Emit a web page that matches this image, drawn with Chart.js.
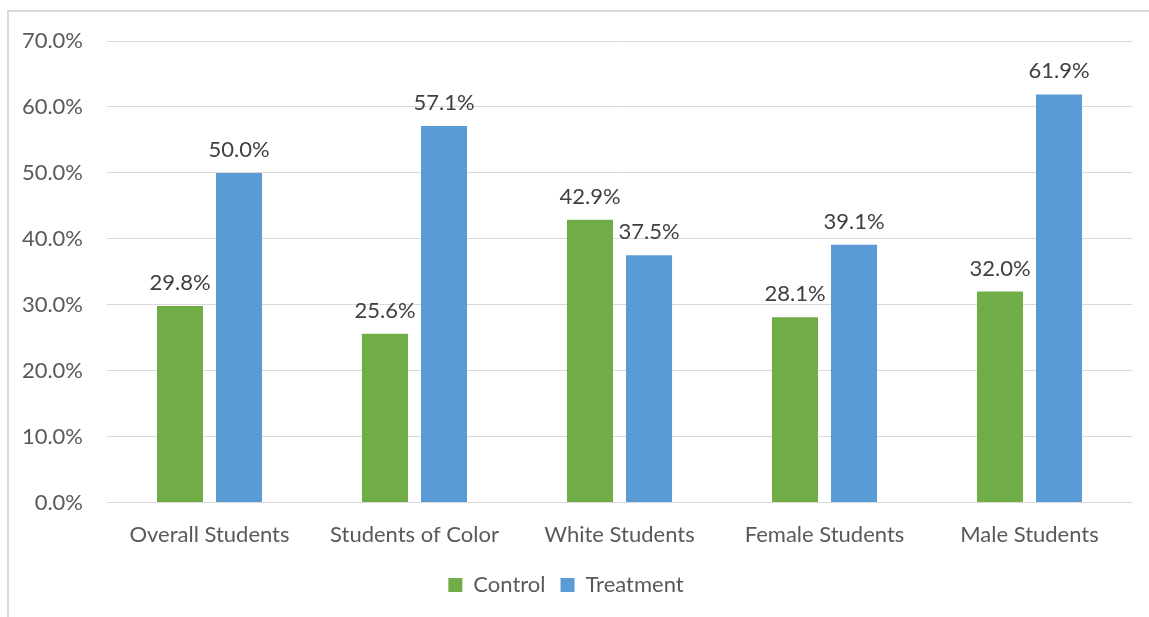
<!DOCTYPE html>
<html>
<head>
<meta charset="utf-8">
<script src="https://cdn.jsdelivr.net/npm/chart.js@4"></script>
<style>
    html, body { margin: 0; padding: 0; background: #fff; }
    #frame { position: absolute; left: 7px; top: 10px; width: 1160px; height: 640px; border-left: 2px solid #d9d9d9; border-top: 2px solid #d9d9d9; }
    #wrap { position: absolute; left: 0; top: 0; width: 1149px; height: 617px; }
</style>
</head>
<body>
<div id="frame"></div>
<div id="wrap"><canvas id="myChart"></canvas></div>
<script>
// categories en waarden (in procent)
let categories = ['Overall Students', 'Students of Color', 'White Students', 'Female Students', 'Male Students'];
let controlValues = [29.8, 25.6, 42.9, 28.1, 32.0];
let treatmentValues = [50.0, 57.1, 37.5, 39.1, 61.9];
let yTicks = [0, 10, 20, 30, 40, 50, 60, 70];

let fontFamily = 'Lato, "Open Sans", sans-serif';
let fontSize = 22;

// labels boven de bars
let valueLabels = {
    id: 'valueLabels',
    afterDatasetsDraw: function (chart) {
        let ctx = chart.ctx;
        ctx.save();
        ctx.font = fontSize + 'px ' + fontFamily;
        ctx.fillStyle = '#404040';
        ctx.textAlign = 'center';
        ctx.textBaseline = 'alphabetic';
        chart.data.datasets.forEach((ds, i) => {
            chart.getDatasetMeta(i).data.forEach((bar, j) => {
                ctx.fillText(ds.data[j].toFixed(1) + '%', bar.x, bar.y - 16);
            });
        });
        ctx.restore();
    }
};

let ctx = document.getElementById('myChart');

new Chart(ctx, {
    type: 'bar',
    data: {
        labels: categories,
        datasets: [{
            label: 'Control',
            data: controlValues,
            backgroundColor: '#70ad47',
            categoryPercentage: 0.576,
            barPercentage: 0.78
        }, {
            label: 'Treatment',
            data: treatmentValues,
            backgroundColor: '#5b9bd5',
            categoryPercentage: 0.576,
            barPercentage: 0.78
        }]
    },
    options: {
        responsive: true,
        maintainAspectRatio: false,
        animation: false,
        layout: { padding: { left: 0, right: 17, top: 41, bottom: 11 } },
        plugins: {
            tooltip: { enabled: false },
            legend: {
                position: 'bottom',
                labels: {
                    font: { family: fontFamily, size: fontSize },
                    color: '#595959',
                    boxWidth: 14,
                    boxHeight: 14,
                    padding: 15
                }
            }
        },
        scales: {
            x: {
                grid: { display: false },
                border: { display: false },
                ticks: { font: { family: fontFamily, size: fontSize }, color: '#595959', padding: 11 }
            },
            y: {
                min: 0,
                max: 70,
                afterBuildTicks: function (scale) {
                    scale.ticks = yTicks.map(v => ({ value: v }));
                },
                afterFit: function (scale) {
                    scale.width = 107;
                },
                grid: { color: '#d9d9d9', lineWidth: 1, drawTicks: false },
                border: { display: false },
                ticks: {
                    font: { family: fontFamily, size: fontSize },
                    color: '#595959',
                    padding: 24,
                    callback: function (v) { return v.toFixed(1) + '%'; }
                }
            }
        }
    },
    plugins: [valueLabels]
});
</script>
</body>
</html>
